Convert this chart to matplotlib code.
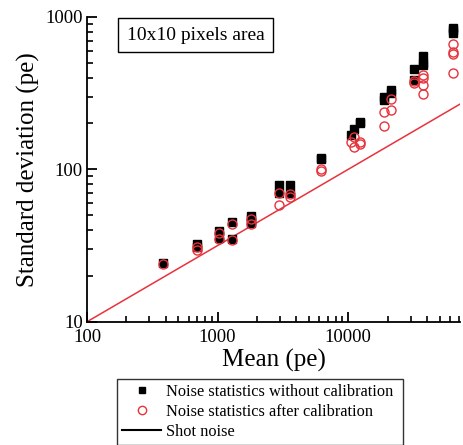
"""Noise statistics of a 10x10 pixel area: std deviation vs mean (log-log)."""

import matplotlib
matplotlib.use("Agg")
import matplotlib.pyplot as plt
from matplotlib.lines import Line2D

plt.rcParams["font.family"] = ["Liberation Serif", "DejaVu Serif"]

RED = "#e8323c"

# without calibration (black squares)
raw_mean = [380, 690, 690, 1025, 1025, 1290, 1290, 1810, 1810, 1810,
            2960, 2960, 3600, 3600, 6180, 6180, 10500, 11000, 12200, 12200,
            18900, 18900, 21200, 21200, 31600, 31600, 37200, 37200, 37200,
            63200, 63200, 63200]
raw_std = [24.3, 32.4, 31, 39.5, 35.3, 45, 34.8, 49.7, 47, 44.5,
           79, 70, 79, 69.5, 118, 116, 168, 183, 205, 200,
           300, 285, 332, 316, 454, 386, 550, 497, 485,
           843, 815, 783]

# after calibration (red open circles)
cal_mean = [380, 690, 690, 1025, 1025, 1290, 1290, 1810, 1810,
            2960, 2960, 3600, 3600, 6180, 6180, 10500, 11000, 11000, 12200, 12200,
            18900, 18900, 21200, 21200, 31600, 31600, 37200, 37200, 37200, 37200,
            63200, 63200, 63200, 63200]
cal_std = [24, 31, 29.6, 38.5, 35, 44, 34.5, 47, 44,
           70, 58.4, 69, 66, 100, 97.7, 150, 164, 141, 152, 147,
           239, 193, 289, 245, 380, 367, 417, 397, 358, 311,
           662, 587, 570, 431]

# shot noise = sqrt(mean), end points of the line
shot_mean = [100, 72000]
shot_std = [10, 268.3]

fig = plt.figure(figsize=(4.63, 4.45), dpi=100)
ax = fig.add_axes([0.188, 0.277, 0.806, 0.685])

ax.plot(shot_mean, shot_std, color=RED, lw=1.1, zorder=2)
ax.plot(raw_mean, raw_std, ls="none", marker="s", ms=6, color="black", zorder=3)
ax.plot(cal_mean, cal_std, ls="none", marker="o", ms=6.5, mfc="none",
        mec=RED, mew=1.0, zorder=4)

ax.set_xscale("log")
ax.set_yscale("log")
ax.set_xlim(100, 72000)
ax.set_ylim(10, 1000)
ax.set_xticks([100, 1000, 10000])
ax.set_xticklabels(["100", "1000", "10000"])
ax.set_yticks([10, 100, 1000])
ax.set_yticklabels(["10", "100", "1000"])

for side in ("top", "right"):
    ax.spines[side].set_visible(False)
for side in ("left", "bottom"):
    ax.spines[side].set_linewidth(1.3)
ax.tick_params(which="major", direction="in", length=7, width=1.3,
               labelsize=13.5, pad=3)
ax.tick_params(which="minor", direction="in", length=4, width=1.2)
ax.tick_params(axis="x", which="major", pad=5.5)

ax.set_xlabel("Mean (pe)", fontsize=18, labelpad=2)
ax.set_ylabel("Standard deviation (pe)", fontsize=18, labelpad=4)

ax.text(0.107, 0.968, "10x10 pixels area", transform=ax.transAxes,
        fontsize=14, ha="left", va="top",
        bbox=dict(boxstyle="square,pad=0.45", fc="white", ec="black", lw=1.0))

handles = [
    Line2D([], [], ls="none", marker="s", ms=4.5, color="black"),
    Line2D([], [], ls="none", marker="o", ms=6, mfc="none", mec=RED, mew=1.0),
    Line2D([], [], color="black", lw=1.5),
]
labels = ["Noise statistics without calibration",
          "Noise statistics after calibration",
          "Shot noise"]
leg = fig.legend(handles, labels, loc="lower left",
                 bbox_to_anchor=(0.253, 0.0, 0.617, 0.148), mode="expand",
                 fontsize=11.8, frameon=True, fancybox=False, borderaxespad=0,
                 handlelength=2.4, handletextpad=0.3, labelspacing=0.25,
                 borderpad=0.3)
leg.get_frame().set_edgecolor("black")
leg.get_frame().set_linewidth(1.0)

fig.savefig("out.png", dpi=100)
